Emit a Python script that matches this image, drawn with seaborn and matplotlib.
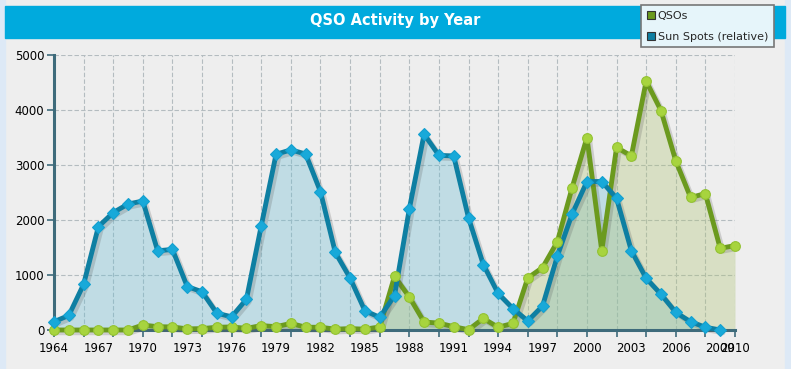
"""
QSO activity vs. relative sun spot count, 1964-2010.
"""
import matplotlib
matplotlib.use("Agg")
import matplotlib.pyplot as plt
import matplotlib.patheffects as pe
from matplotlib.patches import Rectangle, Patch
import seaborn as sns
import pandas as pd

years = list(range(1964, 2011))

qsos = [0, 0, 0, 0, 0, 0, 90, 60, 55, 20, 25, 50, 55, 30, 80, 60,
        120, 50, 50, 15, 25, 15, 55, 975, 600, 145, 125, 60, 5, 210,
        50, 120, 945, 1135, 1605, 2590, 3500, 1440, 3320, 3165, 4525,
        3990, 3075, 2410, 2480, 1485, 1535]

sun_spots = [150, 265, 830, 1880, 2135, 2290, 2345, 1440, 1465, 790,
             695, 305, 240, 560, 1895, 3195, 3275, 3200, 2515, 1410,
             945, 350, 230, 625, 2200, 3560, 3175, 3165, 2040, 1190,
             665, 390, 165, 435, 1345, 2110, 2700, 2700, 2395, 1440,
             940, 650, 320, 150, 50, 0]

label_years = [1964, 1967, 1970, 1973, 1976, 1979, 1982, 1985, 1988,
               1991, 1994, 1997, 2000, 2003, 2006, 2009, 2010]
grid_years = list(range(1964, 2011, 2))
y_ticks = [0, 1000, 2000, 3000, 4000, 5000]

BG = "#eeeeee"
STRIP = "#dde9f6"
TITLE_BAR = "#00aadd"
BLUE_LINE = "#0e7fa2"
BLUE_MARK = "#18a9d9"
BLUE_FILL = "#6bbdd4"
GREEN_LINE = "#6b9a1e"
GREEN_MARK = "#a7d43e"
GREEN_FILL = "#afc376"
SPINE = "#3e6b7b"

sns.set_theme(style="white", rc={
    "axes.facecolor": BG, "figure.facecolor": BG,
    "axes.edgecolor": SPINE, "xtick.color": SPINE, "ytick.color": SPINE,
})
plt.rcParams["font.family"] = ["DejaVu Sans"]

qso_df = pd.DataFrame({"year": years, "value": qsos})
sun_df = pd.DataFrame({"year": years[:len(sun_spots)], "value": sun_spots})

W, H = 791, 369
fig = plt.figure(figsize=(W / 100, H / 100), dpi=100)
ax = fig.add_axes([54 / W, 1 - 330 / H, (735 - 54) / W, (330 - 55) / H])

# page decoration
fig.patches.append(Rectangle((0, 0), 5 / W, 1, transform=fig.transFigure,
                             color=STRIP, zorder=0))
fig.patches.append(Rectangle((785 / W, 0), 6 / W, 1, transform=fig.transFigure,
                             color=STRIP, zorder=0))
fig.patches.append(Rectangle((5 / W, 1 - 38 / H), 780 / W, 32 / H,
                             transform=fig.transFigure, color=TITLE_BAR, zorder=0))
fig.text(395 / W, 1 - 21 / H, "QSO Activity by Year", color="white",
         fontsize=10.5, fontweight="bold", ha="center", va="center")

# fills
ax.fill_between(sun_df["year"], sun_df["value"], color=BLUE_FILL, alpha=0.35,
                lw=0, zorder=1)
ax.fill_between(qso_df["year"], qso_df["value"], color=GREEN_FILL, alpha=0.35,
                lw=0, zorder=1)

shadow = [pe.SimpleLineShadow(offset=(2, -2), shadow_color="#555555", alpha=0.22),
          pe.Normal()]

# lines (with drop shadow), then markers on top
sns.lineplot(data=qso_df, x="year", y="value", ax=ax, color=GREEN_LINE,
             lw=3.5, clip_on=False, path_effects=shadow, zorder=3)
sns.lineplot(data=sun_df, x="year", y="value", ax=ax, color=BLUE_LINE,
             lw=3.5, clip_on=False, path_effects=shadow, zorder=4)
sns.lineplot(data=qso_df, x="year", y="value", ax=ax, linestyle="",
             marker="o", markersize=7, markerfacecolor=GREEN_MARK,
             markeredgecolor="#93c232", markeredgewidth=0.8, clip_on=False,
             zorder=5)
sns.lineplot(data=sun_df, x="year", y="value", ax=ax, linestyle="",
             marker="D", markersize=6.5, markerfacecolor=BLUE_MARK,
             markeredgecolor="#13a0d0", markeredgewidth=0.8, clip_on=False,
             zorder=6)

# axes
ax.set_xlim(1964, 2010)
ax.set_ylim(0, 5000)
ax.xaxis.remove_overlapping_locs = False
ax.set_xticks(grid_years)
ax.set_xticklabels([])
ax.set_xticks(label_years, [str(y) for y in label_years], minor=True)
ax.set_yticks(y_ticks)
ax.tick_params(axis="x", which="major", length=5, width=1.2, direction="out",
               bottom=True)
ax.tick_params(axis="x", which="minor", length=0, pad=9, labelsize=8.5,
               labelcolor="black", bottom=True)
ax.tick_params(axis="y", length=5, width=1.2, direction="out", left=True,
               labelsize=8.5, labelcolor="black", pad=2)
ax.grid(True, which="major", color="#b4bcc0", lw=0.8, ls=(0, (4, 2)))
ax.set_axisbelow(True)
ax.set_xlabel("")
ax.set_ylabel("")
sns.despine(ax=ax, top=True, right=True)
for side in ("left", "bottom"):
    ax.spines[side].set_linewidth(2.2)
    ax.spines[side].set_color(SPINE)
    ax.spines[side].set_zorder(2)

# legend
handles = [Patch(facecolor=GREEN_LINE, edgecolor="#333333", lw=0.8, label="QSOs"),
           Patch(facecolor=BLUE_LINE, edgecolor="#333333", lw=0.8,
                 label="Sun Spots (relative)")]
leg = fig.legend(handles=handles, loc="upper left",
                 bbox_to_anchor=(641 / W, 1 - 5 / H), bbox_transform=fig.transFigure,
                 fontsize=8, frameon=True, fancybox=False, framealpha=1,
                 facecolor="#e6f5fa", edgecolor="#777777", handlelength=0.8,
                 handleheight=0.8, handletextpad=0.2, labelspacing=1.0,
                 borderpad=0.5, borderaxespad=0)
leg.get_frame().set_linewidth(1.2)

fig.savefig("out.png", dpi=100, facecolor=BG)
